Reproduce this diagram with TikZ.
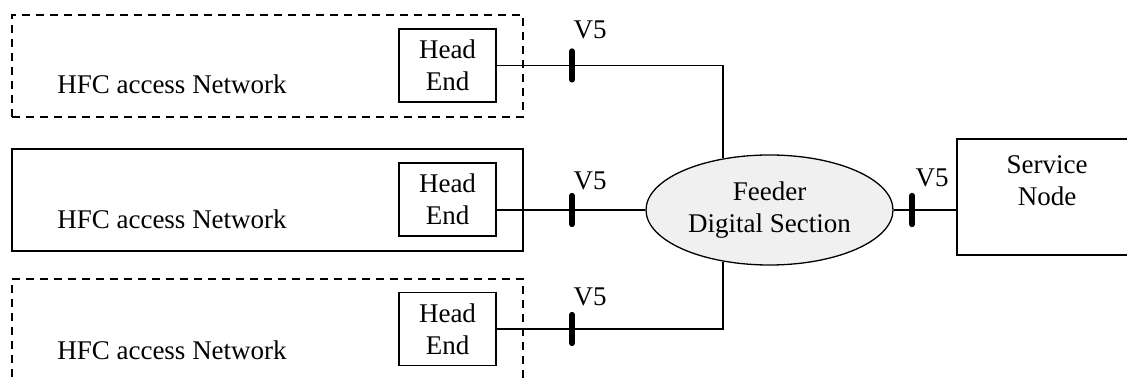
\documentclass[tikz,border=0pt]{standalone}
\usepackage{fontspec}
\setmainfont{Liberation Serif}
\usetikzlibrary{shapes.geometric}
\tikzset{headend/.style = {draw, line width = 0.6pt, align = center, minimum width = 48.5pt, minimum height = 36.5pt, inner sep = 0}}
\tikzset{netbox/.style = {draw, minimum width = 255.5pt, minimum height = 51pt, inner sep = 0}}
\tikzset{vtick/.style = {fill, rounded corners = 1.2pt, inner sep = 0, minimum width = 2.8pt, minimum height = 17pt}}
\tikzset{netdash/.style = {line width = 0.65pt, dash pattern = on 4pt off 3pt}}
\definecolor{fdsgray}{rgb}{0.94, 0.94, 0.94}

\begin{document}
\begin{tikzpicture}[x = 0.5pt, y = -0.5pt, every node/.append style = {font = \fontsize{13.5}{16}\selectfont}]
      \useasboundingbox (0, 0) rectangle (1127, 378);

      % access networks
      \node [netbox, netdash] (net1) at (267.5, 66) {};
      \node [netbox, line width = 1pt] (net2) at (267.5, 200) {};
      \node [netbox, netdash, minimum height = 60pt] (net3) at (267.5, 339) {};

      \foreach \y/\n in {84/1, 219/2, 350/3} {
        \node (hfc\n) at (172, \y) {HFC access Network};
      }
      \foreach \y/\n in {65.5/1, 199.5/2, 329/3} {
        \node [headend] (he\n) at (447.5, \y) {Head\\End};
      }

      % feeder and service node
      \node [ellipse, draw, fill = fdsgray, line width = 0.65pt, minimum width = 123.5pt, minimum height = 55pt, inner sep = 0, align = center] (fds) at (769.5, 210) {Feeder\\Digital Section};
      \node [draw, line width = 0.65pt, minimum width = 90pt, minimum height = 58pt] (sn) at (1047, 197) {};
      \node [align = center] (sntext) at (1047, 181) {Service\\Node};

      \draw [line width = 0.65pt] (he1.east) -| (fds.132);
      \draw [line width = 0.65pt] (he3.east) -| (fds.228);
      \draw [line width = 1pt] (fds.west) -- (fds.west -| he2.east);
      \draw [line width = 1pt] (fds.east) -- (fds.east -| sn.west);

      % V5 reference points
      \foreach \x/\y/\n in {572/65.5/1, 572/210/2, 572/329/3, 912/210/4} {
        \node [vtick] (tk\n) at (\x, \y) {};
      }
      \foreach \x/\y/\n in {590/30/1, 590/181/2, 590/297/3, 932/178/4} {
        \node (vl\n) at (\x, \y) {V5};
      }
\end{tikzpicture}
\end{document}
